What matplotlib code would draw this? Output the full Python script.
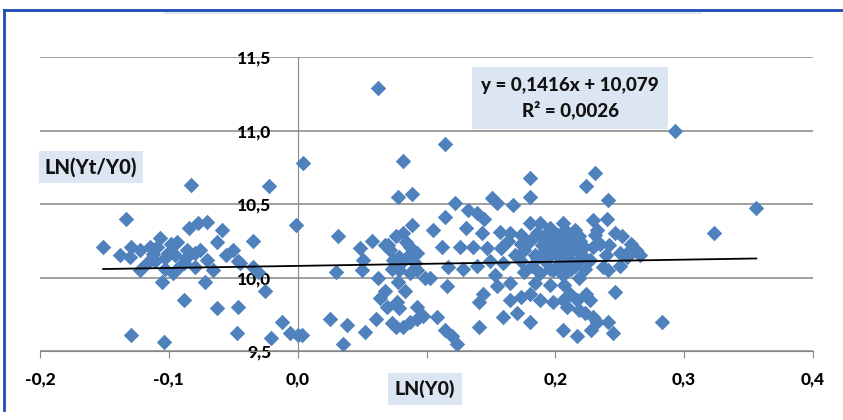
import numpy as np
import matplotlib
matplotlib.use('Agg')
import matplotlib.pyplot as plt
from matplotlib.patches import Rectangle
from matplotlib.lines import Line2D
from matplotlib.ticker import FuncFormatter

plt.rcParams['font.family'] = ['Lato', 'DejaVu Sans']

# LN(Y0) values
ln_y0 = [
    -0.151, -0.133, -0.129, -0.130, -0.122, -0.115, -0.107, -0.117, -0.111, -0.101,
    -0.098, -0.105, -0.129, -0.104, -0.083, -0.022, -0.084, -0.077, -0.070, -0.059,
    -0.035, -0.109, -0.094, -0.086, -0.076, -0.063, -0.050, -0.070, -0.080, -0.091,
    -0.122, -0.045, -0.035, -0.072, -0.097, -0.025, -0.088, -0.063, -0.046, -0.047,
    -0.012, -0.006, 0.000, -0.021, -0.046, -0.031, 0.004, -0.001, -0.087, -0.103,
    -0.138, -0.066, -0.056,
    0.062, 0.082, 0.078, 0.089, 0.031, 0.048, 0.058, 0.030, 0.050, 0.062,
    0.051, 0.076, 0.082, 0.089, 0.072, 0.079, 0.087, 0.093, 0.073, 0.079,
    0.087, 0.093, 0.099, 0.078, 0.105, 0.064, 0.069, 0.077, 0.079, 0.093,
    0.025, 0.038, 0.052, 0.061, 0.073, 0.076, 0.082, 0.087, 0.093, 0.097,
    0.035, 0.003, 0.068, 0.083, 0.074, 0.068,
    0.114, 0.180, 0.180, 0.122, 0.151, 0.155, 0.167, 0.114, 0.132, 0.139,
    0.145, 0.143, 0.157, 0.131, 0.112, 0.126, 0.136, 0.147, 0.163, 0.173,
    0.180, 0.188, 0.196, 0.206, 0.117, 0.128, 0.139, 0.149, 0.159, 0.116,
    0.103, 0.144, 0.155, 0.165, 0.141, 0.165, 0.173, 0.180, 0.188, 0.198,
    0.206, 0.159, 0.170, 0.180, 0.141, 0.108, 0.114, 0.120, 0.124, 0.206,
    0.173, 0.180, 0.188, 0.196, 0.204, 0.211, 0.176, 0.184, 0.192, 0.200,
    0.207, 0.173, 0.182, 0.192, 0.201, 0.210, 0.176, 0.188, 0.198, 0.206,
    0.169, 0.153,
    0.293, 0.231, 0.224, 0.241, 0.229, 0.240, 0.246, 0.252, 0.259, 0.232,
    0.235, 0.263, 0.266, 0.229, 0.256, 0.250, 0.237, 0.241, 0.246, 0.211,
    0.217, 0.224, 0.227, 0.218, 0.223, 0.229, 0.232, 0.209, 0.241, 0.245,
    0.217, 0.228, 0.283, 0.356, 0.323, 0.215, 0.219, 0.213, 0.221, 0.215,
    0.223, 0.227, 0.218, 0.207, 0.196, 0.184, 0.231, 0.242, 0.250, 0.258,
    0.239,
    # dense cores
    0.186, 0.194, 0.202, 0.210, 0.218, 0.190, 0.198, 0.206, 0.214, 0.222,
    0.186, 0.194, 0.202, 0.210, 0.218, 0.196, 0.204, 0.212, 0.165, 0.158,
    0.080, 0.085, 0.091, 0.084, 0.070, -0.095, -0.088, -0.112, -0.080, -0.103,
]

# LN(Yt/Y0) values
ln_yt_y0 = [
    10.21, 10.40, 10.21, 10.14, 10.19, 10.21, 10.27, 10.10, 10.11, 10.17,
    10.23, 9.97, 9.61, 9.56, 10.63, 10.62, 10.34, 10.37, 10.38, 10.32,
    10.25, 10.21, 10.24, 10.19, 10.19, 10.24, 10.19, 10.12, 10.07, 10.08,
    10.05, 10.10, 10.07, 9.97, 10.03, 9.91, 9.85, 9.79, 9.80, 9.62,
    9.70, 9.62, 9.61, 9.59, 10.11, 10.04, 10.78, 10.36, 10.13, 10.06,
    10.15, 10.05, 10.15,
    11.29, 10.79, 10.55, 10.57, 10.28, 10.20, 10.25, 10.04, 10.05, 10.00,
    10.12, 10.28, 10.30, 10.36, 10.19, 10.14, 10.21, 10.17, 10.06, 10.05,
    10.03, 10.05, 10.00, 9.97, 10.32, 9.86, 9.80, 9.83, 9.79, 9.80,
    9.72, 9.68, 9.63, 9.72, 9.69, 9.66, 9.66, 9.70, 9.72, 9.74,
    9.55, 9.61, 9.91, 9.91, 10.12, 10.22,
    10.91, 10.68, 10.55, 10.51, 10.54, 10.51, 10.49, 10.41, 10.46, 10.44,
    10.40, 10.30, 10.31, 10.34, 10.21, 10.21, 10.21, 10.20, 10.25, 10.23,
    10.37, 10.37, 10.34, 10.37, 10.07, 10.06, 10.08, 10.11, 10.10, 9.94,
    10.00, 9.89, 9.94, 9.96, 9.83, 9.85, 9.87, 9.89, 9.85, 9.83,
    9.85, 9.73, 9.76, 9.70, 9.66, 9.73, 9.64, 9.60, 9.55, 9.64,
    10.29, 10.25, 10.28, 10.25, 10.29, 10.27, 10.19, 10.15, 10.19, 10.17,
    10.20, 10.11, 10.08, 10.11, 10.08, 10.12, 10.04, 10.03, 10.05, 10.02,
    10.15, 10.02,
    11.00, 10.71, 10.62, 10.53, 10.39, 10.40, 10.30, 10.28, 10.23, 10.32,
    10.23, 10.19, 10.15, 10.21, 10.14, 10.17, 10.07, 10.05, 9.90, 9.89,
    9.85, 9.89, 9.85, 9.78, 9.76, 9.73, 9.70, 9.80, 9.70, 9.62,
    9.60, 9.64, 9.70, 10.47, 10.30, 10.32, 10.25, 10.19, 10.15, 10.08,
    10.06, 10.12, 10.00, 9.95, 9.95, 9.96, 10.29, 10.22, 10.08, 10.19,
    10.15,
    10.30, 10.31, 10.29, 10.30, 10.28, 10.22, 10.23, 10.24, 10.22, 10.21,
    10.13, 10.14, 10.15, 10.14, 10.12, 10.06, 10.07, 10.06, 10.30, 10.20,
    10.10, 10.14, 10.10, 10.24, 10.22, 10.15, 10.10, 10.16, 10.17, 10.13,
]

# trendline reported on the chart
slope = 0.1416
intercept = 10.079
x_ticks = [-0.2, -0.1, 0.0, 0.1, 0.2, 0.3, 0.4]
y_ticks = [9.5, 10.0, 10.5, 11.0, 11.5]


def comma_fmt(v, p):
    return f'{v:.1f}'.replace('.', ',')


def x_fmt(v, p):
    # the 0,1 label sits under the axis title box in the original
    if abs(v - 0.1) < 1e-9:
        return ''
    return comma_fmt(v, p)


fig = plt.figure(figsize=(8.43, 4.2), dpi=100)
ax = fig.add_axes([40 / 843, 1 - 351 / 420, 773 / 843, 294 / 420])

grid_col = '#868686'
ax.scatter(ln_y0, ln_yt_y0, marker='D', s=62, color='#4F81BD', linewidths=0, zorder=3)

xs = np.array([min(ln_y0), max(ln_y0)])
ax.plot(xs, slope * xs + intercept, color='black', lw=1.3, zorder=4)

ax.set_xlim(-0.2, 0.4)
ax.set_ylim(9.5, 11.5)
ax.set_xticks(x_ticks)
ax.set_yticks(y_ticks)
ax.xaxis.set_major_formatter(FuncFormatter(x_fmt))
ax.yaxis.set_major_formatter(FuncFormatter(comma_fmt))

ax.yaxis.grid(True, color=grid_col, lw=1.1)
ax.set_axisbelow(True)
for gl in ax.yaxis.get_gridlines():
    gl.set_clip_on(False)

for s in ['top', 'right']:
    ax.spines[s].set_visible(False)
ax.spines['left'].set_position(('data', 0))
ax.spines['left'].set_color(grid_col)
ax.spines['bottom'].set_color(grid_col)
ax.spines['left'].set_zorder(1)

ax.tick_params(axis='x', length=5, color=grid_col, pad=10, labelsize=12.5, labelcolor='black')
ax.tick_params(axis='y', length=0, pad=19, labelsize=12.5, labelcolor='black')
for lab in ax.get_xticklabels() + ax.get_yticklabels():
    lab.set_fontweight('black')

# axis titles and equation box
fig.text(91 / 843, 1 - 167 / 420, 'LN(Yt/Y0)', ha='center', va='center',
         fontsize=14.5, fontweight='black', color='#111111',
         bbox=dict(boxstyle='square,pad=0.3', facecolor='#DCE6F2', edgecolor='none'))
fig.text(425 / 843, 1 - 389 / 420, 'LN(Y0)', ha='center', va='center',
         fontsize=14, fontweight='black', color='#111111',
         bbox=dict(boxstyle='square,pad=0.35', facecolor='#DCE6F2', edgecolor='none'))
fig.text(570 / 843, 1 - 98 / 420, 'y = 0,1416x + 10,079\nR² = 0,0026', ha='center', va='center',
         fontsize=13.5, fontweight='black', color='#111111', linespacing=1.45,
         bbox=dict(boxstyle='square,pad=0.5', facecolor='#DCE6F2', edgecolor='none'))

# chart frame and clipped title strip
fig.add_artist(Rectangle((164 / 843, 1 - 14 / 420), 538 / 843, 4 / 420,
                         transform=fig.transFigure, facecolor='#DCE6F2', edgecolor='none'))
fig.add_artist(Line2D([4 / 843, 4 / 843], [1 - 410 / 420, 1 - 10 / 420],
                      transform=fig.transFigure, color='#1c4bb4', lw=2))
fig.add_artist(Line2D([4 / 843, 1], [1 - 10 / 420, 1 - 10 / 420],
                      transform=fig.transFigure, color='#1c4bb4', lw=2))

fig.savefig('out.png', dpi=100)
